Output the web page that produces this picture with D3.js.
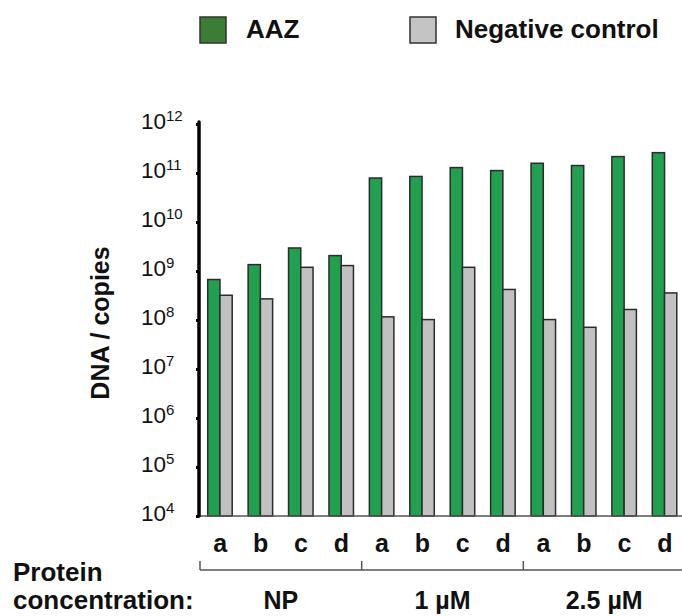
<!DOCTYPE html>
<html>

<head>
  <title>DNA copies chart</title>
  <script src="https://cdn.jsdelivr.net/npm/d3@7"></script>
  <style type="text/css">
    body {
      margin: 0;
      background: #fff;
    }

    text {
      font-family: "Liberation Sans", Arial, Helvetica, sans-serif;
      fill: #111;
    }

    .bold {
      font-weight: bold;
    }
  </style>
</head>

<body>
  <div id="chartArea"></div>
  <script type="text/javascript">
    // data
    let groups = ['NP', '1 µM', '2.5 µM'];
    let samples = ['a', 'b', 'c', 'd'];
    let aaz = [6.7e8, 1.35e9, 2.95e9, 2.06e9, 7.9e10, 8.5e10, 1.29e11, 1.12e11, 1.58e11, 1.42e11, 2.16e11, 2.6e11];
    let negative = [3.2e8, 2.7e8, 1.19e9, 1.29e9, 1.16e8, 1.02e8, 1.19e9, 4.2e8, 1.02e8, 7.1e7, 1.64e8, 3.57e8];
    let seriesNames = ['AAZ', 'Negative control'];
    let tickValues = [1e4, 1e5, 1e6, 1e7, 1e8, 1e9, 1e10, 1e11, 1e12];

    let colors = ['#21a150', '#c1c1c1'];
    let legendColors = ['#3b7d35', '#c4c4c4'];

    let W = 682, H = 616;

    // one row per bar pair
    let rows = [];
    groups.forEach((g, gi) => {
      samples.forEach((s, si) => {
        let i = gi * samples.length + si;
        rows.push({ key: g + '-' + s, group: g, sample: s, values: [aaz[i], negative[i]] });
      });
    });

    let svg = d3.select('#chartArea').append('svg')
      .attr('width', W)
      .attr('height', H);

    let xScale = d3.scaleBand()
      .domain(rows.map(d => d.key))
      .range([200, 685]);

    let xInner = d3.scaleBand()
      .domain(seriesNames)
      .range([-12.5, 12]);

    let yScale = d3.scaleLog()
      .domain([1e4, 1e12])
      .range([516, 124]);

    // bars
    let pairs = svg.append('g').selectAll('g')
      .data(rows)
      .enter()
      .append('g')
      .attr('transform', d => `translate(${xScale(d.key) + xScale.bandwidth() / 2},0)`);

    pairs.selectAll('rect')
      .data(d => d.values.map((v, i) => ({ name: seriesNames[i], value: v, i: i })))
      .enter()
      .append('rect')
      .attr('x', d => xInner(d.name))
      .attr('width', xInner.bandwidth())
      .attr('y', d => yScale(d.value))
      .attr('height', d => yScale(1e4) - yScale(d.value))
      .attr('fill', d => colors[d.i])
      .attr('stroke', '#2b2b2b')
      .attr('stroke-width', 1.5);

    // x baseline
    svg.append('line')
      .attr('x1', 199).attr('x2', W)
      .attr('y1', yScale(1e4)).attr('y2', yScale(1e4))
      .attr('stroke', '#555')
      .attr('stroke-width', 1.5);

    // y axis
    let yAxis = svg.append('g')
      .attr('transform', 'translate(199,0)')
      .call(d3.axisLeft(yScale).tickValues(tickValues).tickSize(3).tickFormat(''));
    yAxis.select('.domain').remove();
    yAxis.selectAll('.tick line').attr('stroke', '#000').attr('stroke-width', 3);
    svg.append('line')
      .attr('x1', 199).attr('x2', 199)
      .attr('y1', yScale(1e12) - 2).attr('y2', yScale(1e4))
      .attr('stroke', '#000')
      .attr('stroke-width', 3.5)
      .attr('stroke-linecap', 'round');

    // tick labels 10^n
    let tickText = svg.append('g').selectAll('text')
      .data(tickValues)
      .enter()
      .append('text')
      .attr('x', 141)
      .attr('y', d => yScale(d) + 5)
      .style('font-size', '22.5px');
    tickText.append('tspan').text('10');
    tickText.append('tspan')
      .attr('dy', -8)
      .style('font-size', '15px')
      .text(d => Math.round(Math.log10(d)));

    // y title
    svg.append('text')
      .attr('class', 'bold')
      .attr('transform', 'translate(109,323) rotate(-90)')
      .attr('text-anchor', 'middle')
      .style('font-size', '25px')
      .text('DNA / copies');

    // sample labels
    svg.append('g').selectAll('text')
      .data(rows)
      .enter()
      .append('text')
      .attr('class', 'bold')
      .attr('x', d => xScale(d.key) + xScale.bandwidth() / 2)
      .attr('y', 552)
      .attr('text-anchor', 'middle')
      .style('font-size', '25px')
      .text(d => d.sample);

    // group brackets
    let step = xScale.step() * samples.length;
    svg.append('line')
      .attr('x1', xScale(rows[0].key)).attr('x2', W)
      .attr('y1', 570).attr('y2', 570)
      .attr('stroke', '#555').attr('stroke-width', 1.5);

    let groupG = svg.append('g').selectAll('g')
      .data(groups)
      .enter()
      .append('g');

    groupG.append('line')
      .attr('x1', (d, i) => xScale(rows[i * samples.length].key))
      .attr('x2', (d, i) => xScale(rows[i * samples.length].key))
      .attr('y1', 561).attr('y2', 570)
      .attr('stroke', '#555').attr('stroke-width', 1.5);

    groupG.append('text')
      .attr('class', 'bold')
      .attr('x', (d, i) => xScale(rows[i * samples.length].key) + step / 2)
      .attr('y', 609)
      .attr('text-anchor', 'middle')
      .style('font-size', '25px')
      .text(d => d);

    svg.append('text')
      .attr('class', 'bold')
      .attr('x', 13).attr('y', 581)
      .style('font-size', '26px')
      .text('Protein');
    svg.append('text')
      .attr('class', 'bold')
      .attr('x', 13).attr('y', 609)
      .style('font-size', '26px')
      .text('concentration:');

    // legend
    let legendX = [200, 410];
    let legend = svg.append('g').selectAll('g')
      .data(seriesNames)
      .enter()
      .append('g')
      .attr('transform', (d, i) => `translate(${legendX[i]},17)`);

    legend.append('rect')
      .attr('width', 26)
      .attr('height', 26)
      .attr('fill', (d, i) => legendColors[i])
      .attr('stroke', '#333')
      .attr('stroke-width', 1.5);

    legend.append('text')
      .attr('class', 'bold')
      .attr('x', (d, i) => i == 0 ? 46 : 45)
      .attr('y', 21)
      .style('font-size', '26px')
      .text(d => d);
  </script>
</body>

</html>
